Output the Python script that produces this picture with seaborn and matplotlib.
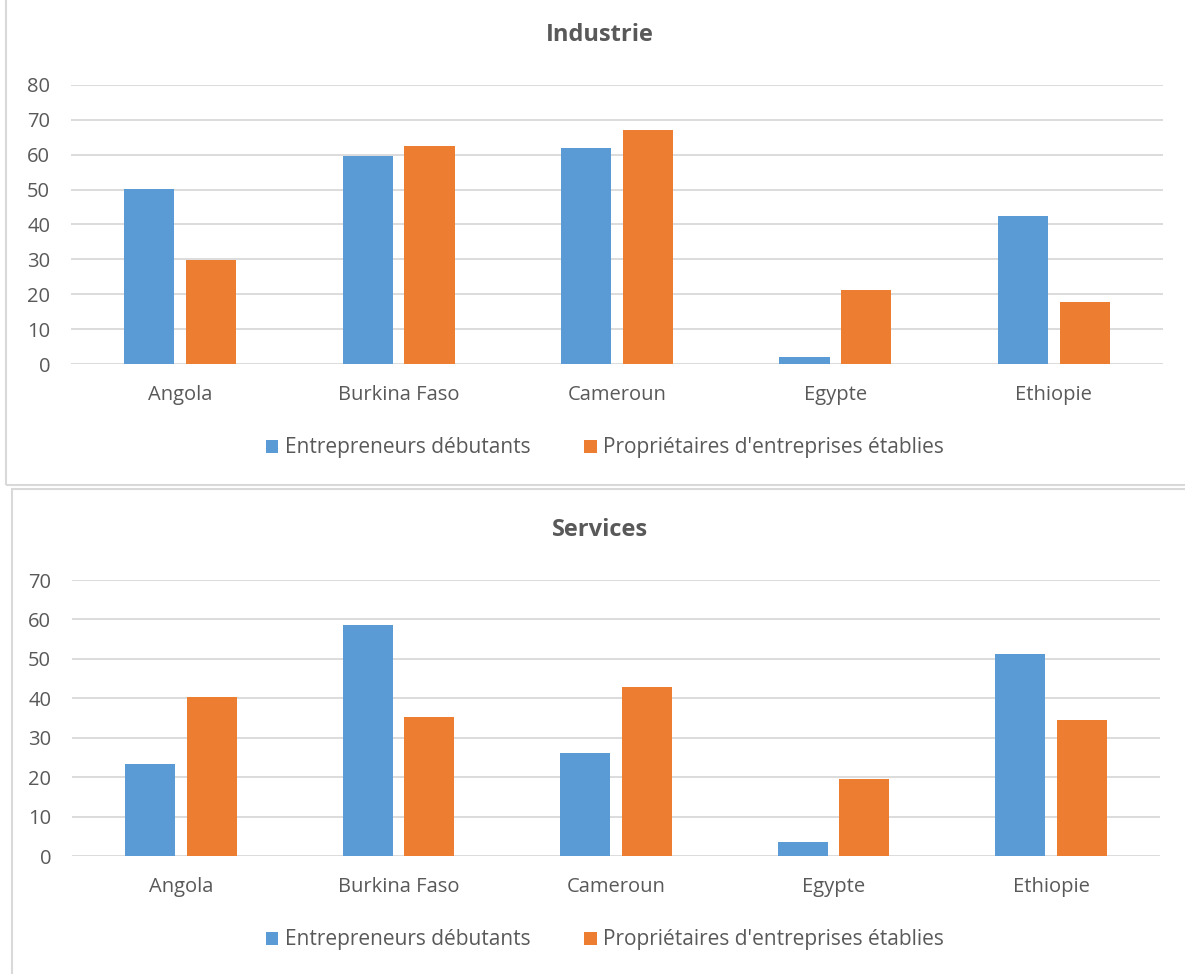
import matplotlib
matplotlib.use("Agg")
import matplotlib.pyplot as plt
from matplotlib.patches import Rectangle, Patch
import seaborn as sns
import pandas as pd

# Data
pays = ["Angola", "Burkina Faso", "Cameroun", "Egypte", "Ethiopie"]
series = ["Entrepreneurs débutants", "Propriétaires d'entreprises établies"]
industrie_debutants = [50.3, 59.5, 61.8, 2.0, 42.3]
industrie_etablies = [29.8, 62.5, 67.1, 21.2, 17.7]
services_debutants = [23.4, 58.6, 26.0, 3.5, 51.3]
services_etablies = [40.4, 35.3, 42.8, 19.5, 34.6]
industrie_ticks = [0, 10, 20, 30, 40, 50, 60, 70, 80]
services_ticks = [0, 10, 20, 30, 40, 50, 60, 70]

BLUE = "#5B9BD5"
ORANGE = "#ED7D31"
TEXT = "#595959"
GRID = "#D9D9D9"

sns.set_style("white")
plt.rcParams["font.family"] = ["Open Sans", "DejaVu Sans"]

W, H = 1185, 974
fig = plt.figure(figsize=(W / 100, H / 100), dpi=100)


def frac_box(x0, y0, x1, y1):
    """Pixel box (top-left origin) to figure fraction [l, b, w, h]."""
    return [x0 / W, 1 - y1 / H, (x1 - x0) / W, (y1 - y0) / H]


# Chart frames
fig.patches.append(Rectangle((6 / W, 1 - 485 / H), (1190 - 6) / W, 490 / H,
                             transform=fig.transFigure, fill=False,
                             edgecolor=GRID, linewidth=1.5))
fig.patches.append(Rectangle((12 / W, -0.02), (1190 - 12) / W, (1 - 489 / H) + 0.02,
                             transform=fig.transFigure, fill=False,
                             edgecolor=GRID, linewidth=1.5))


def draw_panel(rect, deb, eta, ticks, title, title_y, legend_y):
    ax = fig.add_axes(frac_box(*rect))
    df = pd.DataFrame({
        "pays": pays * 2,
        "serie": [series[0]] * len(pays) + [series[1]] * len(pays),
        "valeur": deb + eta,
    })
    sns.barplot(data=df, x="pays", y="valeur", hue="serie",
                palette=[BLUE, ORANGE], width=0.567, gap=0.19,
                saturation=1, ax=ax, legend=False, linewidth=0)
    ax.set_ylim(ticks[0], ticks[-1])
    ax.set_xlim(-0.5, len(pays) - 0.5)
    ax.set_yticks(ticks)
    ax.set_xlabel("")
    ax.set_ylabel("")
    ax.yaxis.grid(True, color=GRID, linewidth=1.3)
    ax.set_axisbelow(True)
    for s in ax.spines.values():
        s.set_visible(False)
    ax.tick_params(axis="both", length=0, labelsize=14.5, colors=TEXT)
    ax.tick_params(axis="y", pad=15)
    ax.tick_params(axis="x", pad=15)
    fig.text(600 / W, 1 - title_y / H, title,
             ha="center", va="center", fontsize=17, fontweight="bold", color=TEXT)
    handles = [Patch(facecolor=BLUE, edgecolor="none"),
               Patch(facecolor=ORANGE, edgecolor="none")]
    fig.legend(handles, series, loc="center", bbox_to_anchor=(605 / W, 1 - legend_y / H),
               ncol=2, frameon=False, fontsize=15, labelcolor=TEXT,
               handlelength=0.6, handleheight=0.6, handletextpad=0.3,
               columnspacing=2.6)
    return ax


draw_panel((71, 85, 1163, 364), industrie_debutants, industrie_etablies,
           industrie_ticks, "Industrie", 35, 448)
draw_panel((72, 580, 1160, 856), services_debutants, services_etablies,
           services_ticks, "Services", 530, 940)

fig.savefig("out.png", dpi=100, facecolor="white")
